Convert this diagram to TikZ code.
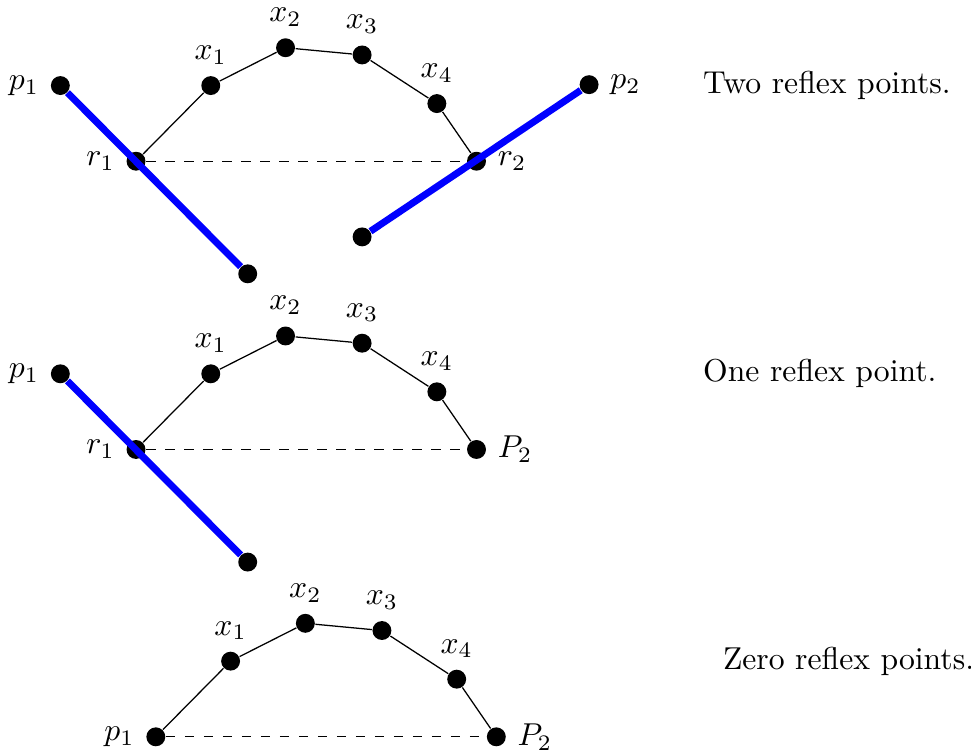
\documentclass[tikz,border=0pt]{standalone}
\usetikzlibrary{positioning}
\tikzset{
  pt-dot/.style={circle,fill=black,inner sep=0pt,minimum size=2.1mm},
  edge-chain/.style={thin,draw=black},
  edge-chord/.style={dashed,draw=black},
  edge-reflex/.style={draw=blue,line width=2.2pt},
  caption-text/.style={anchor=west,inner sep=0pt},
}
\begin{document}
\begin{tikzpicture}
  \useasboundingbox (0,0) rectangle (10.78,-8.35);
  % two reflex points
  \node[pt-dot,label=left:$p_1$]  (tp1) at (0.67,-0.95) {};
  \node[pt-dot,label=left:$r_1$]  (tr1) at (1.51,-1.79) {};
  \node[pt-dot,label=above:$x_1$] (tx1) at (2.34,-0.95) {};
  \node[pt-dot,label=above:$x_2$] (tx2) at (3.17,-0.53) {};
  \node[pt-dot,label=above:$x_3$] (tx3) at (4.02,-0.61) {};
  \node[pt-dot,label=above:$x_4$] (tx4) at (4.85,-1.15) {};
  \node[pt-dot,label=right:$r_2$] (tr2) at (5.29,-1.79) {};
  \node[pt-dot,label=right:$p_2$] (tp2) at (6.54,-0.94) {};
  \node[pt-dot] (tb1) at (2.75,-3.04) {};
  \node[pt-dot] (tb2) at (4.02,-2.63) {};
  \draw[edge-chain] (tr1) -- (tx1) -- (tx2) -- (tx3) -- (tx4) -- (tr2);
  \draw[edge-chord] (tr1) -- (tr2);
  \draw[edge-reflex] (tp1) -- (tb1);
  \draw[edge-reflex] (tp2) -- (tb2);
  \node[caption-text] (tcap) at (7.80,-0.95) {Two reflex points.};

  % one reflex point
  \begin{scope}[yshift=-3.20cm]
    \node[pt-dot,label=left:$p_1$]  (mp1) at (0.67,-0.95) {};
    \node[pt-dot,label=left:$r_1$]  (mr1) at (1.51,-1.79) {};
    \node[pt-dot,label=above:$x_1$] (mx1) at (2.34,-0.95) {};
    \node[pt-dot,label=above:$x_2$] (mx2) at (3.17,-0.53) {};
    \node[pt-dot,label=above:$x_3$] (mx3) at (4.02,-0.61) {};
    \node[pt-dot,label=above:$x_4$] (mx4) at (4.85,-1.15) {};
    \node[pt-dot,label=right:$P_2$] (mP2) at (5.29,-1.79) {};
    \node[pt-dot] (mb1) at (2.75,-3.04) {};
    \draw[edge-chain] (mr1) -- (mx1) -- (mx2) -- (mx3) -- (mx4) -- (mP2);
    \draw[edge-chord] (mr1) -- (mP2);
    \draw[edge-reflex] (mp1) -- (mb1);
    \node[caption-text] (mcap) at (7.80,-0.95) {One reflex point.};
  \end{scope}

  % zero reflex points
  \begin{scope}[xshift=0.22cm,yshift=-6.39cm]
    \node[pt-dot,label=left:$p_1$]  (zp1) at (1.51,-1.79) {};
    \node[pt-dot,label=above:$x_1$] (zx1) at (2.34,-0.95) {};
    \node[pt-dot,label=above:$x_2$] (zx2) at (3.17,-0.53) {};
    \node[pt-dot,label=above:$x_3$] (zx3) at (4.02,-0.61) {};
    \node[pt-dot,label=above:$x_4$] (zx4) at (4.85,-1.15) {};
    \node[pt-dot,label=right:$P_2$] (zP2) at (5.29,-1.79) {};
    \draw[edge-chain] (zp1) -- (zx1) -- (zx2) -- (zx3) -- (zx4) -- (zP2);
    \draw[edge-chord] (zp1) -- (zP2);
    \node[caption-text] (zcap) at (7.80,-0.95) {Zero reflex points.};
  \end{scope}
\end{tikzpicture}
\end{document}
